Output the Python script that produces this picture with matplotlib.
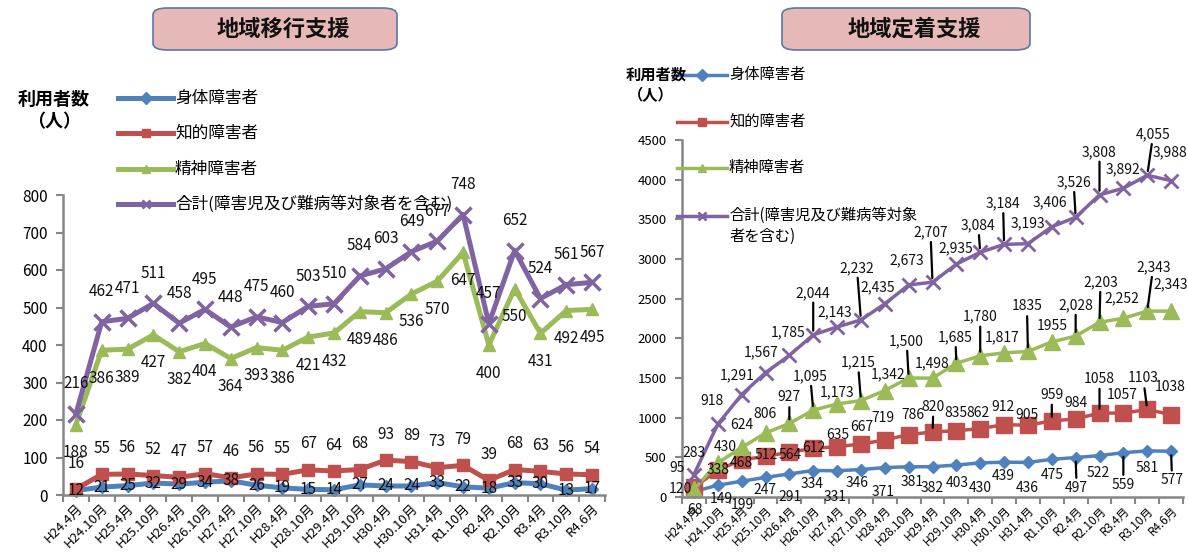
import numpy as np
import matplotlib.pyplot as plt
from matplotlib.lines import Line2D
from matplotlib.patches import FancyBboxPatch

plt.rcParams['font.family'] = ['Noto Sans CJK JP', 'DejaVu Sans']

# ---- data ----
months = ['H24.4月', 'H24.10月', 'H25.4月', 'H25.10月', 'H26.4月', 'H26.10月', 'H27.4月',
          'H27.10月', 'H28.4月', 'H28.10月', 'H29.4月', 'H29.10月', 'H30.4月', 'H30.10月',
          'H31.4月', 'R1.10月', 'R2.4月', 'R2.10月', 'R3.4月', 'R3.10月', 'R4.6月']
names = ['身体障害者', '知的障害者', '精神障害者', '合計(障害児及び難病等対象者を含む)']

# 地域移行支援
ik_body = [12, 21, 25, 32, 29, 34, 38, 26, 19, 15, 14, 27, 24, 24, 33, 22, 18, 33, 30, 13, 17]
ik_intel = [16, 55, 56, 52, 47, 57, 46, 56, 55, 67, 64, 68, 93, 89, 73, 79, 39, 68, 63, 56, 54]
ik_mental = [188, 386, 389, 427, 382, 404, 364, 393, 386, 421, 432, 489, 486, 536, 570, 647,
             400, 550, 431, 492, 495]
ik_total = [216, 462, 471, 511, 458, 495, 448, 475, 460, 503, 510, 584, 603, 649, 677, 748,
            457, 652, 524, 561, 567]

# 地域定着支援
tc_body = [68, 149, 199, 247, 291, 334, 331, 346, 371, 381, 382, 403, 430, 439, 436, 475,
           497, 522, 559, 581, 577]
tc_intel = [120, 338, 468, 512, 564, 612, 635, 667, 719, 786, 820, 835, 862, 912, 905, 959,
            984, 1058, 1057, 1103, 1038]
tc_mental = [95, 430, 624, 806, 927, 1095, 1173, 1215, 1342, 1500, 1498, 1685, 1780, 1817,
             1835, 1955, 2028, 2203, 2252, 2343, 2343]
tc_total = [283, 918, 1291, 1567, 1785, 2044, 2143, 2232, 2435, 2673, 2707, 2935, 3084, 3184,
            3193, 3406, 3526, 3808, 3892, 4055, 3988]
tc_mental_nocomma = [14, 15]

# ---- label placement for the right chart (pixels, + is down) ----
tot_dx = [0, -6, -4, -4, -1, 0, -2, -4, -7, -2, -2, -1, -2, -1, 0, -2, -2, 0, 0, 6, -1]
tot_dy = [-22, -23, -19, -20, -23, -42, -15, -52, -17, -25, -50, -16, -27, -41, -20, -24,
          -35, -43, -19, -41, -28]
men_dx = [-17, 7, 0, 0, 0, -3, 0, -3, 3, -2, 0, -1, 0, -2, -1, 0, 0, 1, -1, 6, 0]
men_dy = [-21, -16, -22, -19, -26, -34, -12, -38, -16, -37, -15, -26, -39, -16, -45, -16,
          -31, -40, -20, -44, -27]
int_dx = [-14, 0, 0, 1, 1, 1, 1, 1, -2, 4, 1, 0, -2, -1, -1, 0, 0, 0, -1, -4, -1]
int_dy = [2, 0, 3, -1, 3, 0, -12, -17, -22, -20, -25, -18, -16, -18, -10, -26, -16, -34,
          -18, -31, -28]
bod_dx = [1, 4, 1, -1, 1, -1, -2, -4, -2, 4, 0, 1, 0, -1, -1, 0, 1, -1, 0, 0, 1]
bod_dy = [18, 14, 24, 13, 23, 13, 26, 13, 24, 15, 21, 18, 25, 14, 26, 16, 30, 17, 32, 17, 29]
tot_lead = [5, 7, 10, 12, 13, 16, 17, 19]
men_lead = [4, 5, 7, 9, 11, 12, 14, 16, 17, 19]
int_lead = [10, 15, 17, 19]
bod_lead = [16, 18, 20]

colors = ['#4F81BD', '#C0504D', '#9BBB59', '#8064A2']
markers = ['D', 's', '^', 'x']
grey = '#868686'

W, H = 1188, 555
fig = plt.figure(figsize=(W / 100, H / 100), dpi=100)


def fx(x):
    return x / W


def fy(y):
    return 1 - y / H


def style_axis(ax, ymax, step, yfs, xfs):
    x = np.arange(len(months))
    ax.set_xlim(-0.5, len(months) - 0.5)
    ax.set_ylim(0, ymax)
    ax.set_yticks(np.arange(0, ymax + 1, step))
    for s in ['top', 'right']:
        ax.spines[s].set_visible(False)
    for s in ['left', 'bottom']:
        ax.spines[s].set_color(grey)
        ax.spines[s].set_linewidth(1.8)
    ax.tick_params(axis='y', length=5, color=grey, width=1.5, labelsize=yfs, pad=6)
    ax.set_xticks(x)
    ax.set_xticklabels(months, rotation=45, ha='right', rotation_mode='anchor', fontsize=xfs)
    ax.tick_params(axis='x', which='major', length=0, pad=5)
    ax.set_xticks(np.arange(-0.5, len(months), 1), minor=True)
    ax.tick_params(axis='x', which='minor', length=5, color=grey, width=1.5)


# ---------------- left: 地域移行支援 ----------------
ax1 = fig.add_axes([fx(63), fy(495), (605 - 63) / W, (495 - 195) / H])
style_axis(ax1, 800, 100, 11, 9.5)
x = np.arange(len(months))
left_series = [ik_body, ik_intel, ik_mental, ik_total]
left_ms = [6, 8, 8, 11]
left_off = [0, 26, -28, 30]
for vals, c, m, ms, off in zip(left_series, colors, markers, left_ms, left_off):
    ax1.plot(x, vals, color=c, lw=3.6, marker=m, ms=ms, mew=2.5 if m == 'x' else 1,
             mec=c, clip_on=False)
    for i, v in enumerate(vals):
        ax1.annotate(str(v), (i, v), xytext=(0, off), textcoords='offset pixels',
                     ha='center', va='center', fontsize=11, color='#111111', zorder=10)

# ---------------- right: 地域定着支援 ----------------
ax2 = fig.add_axes([fx(682), fy(497), (1183 - 682) / W, (497 - 140) / H])
style_axis(ax2, 4500, 500, 9.5, 8.5)
right_series = [tc_body, tc_intel, tc_mental, tc_total]
right_ms = [6, 11, 11, 10]
for vals, c, m, ms in zip(right_series, colors, markers, right_ms):
    ax2.plot(x, vals, color=c, lw=2.5, marker=m, ms=ms, mew=2 if m == 'x' else 1,
             mec=c, clip_on=False)


def fmt(v, comma):
    return f'{v:,}' if comma else str(v)


label_sets = [
    (tc_body, bod_dx, bod_dy, bod_lead, False, []),
    (tc_intel, int_dx, int_dy, int_lead, False, []),
    (tc_mental, men_dx, men_dy, men_lead, True, tc_mental_nocomma),
    (tc_total, tot_dx, tot_dy, tot_lead, True, []),
]
for vals, dxs, dys, lead, comma, nocomma in label_sets:
    for i, v in enumerate(vals):
        txt = fmt(v, comma and i not in nocomma)
        kw = {}
        if i in lead:
            kw['arrowprops'] = dict(arrowstyle='-', color='black', lw=1.6,
                                    shrinkA=0, shrinkB=3)
        ax2.annotate(txt, (i, v), xytext=(dxs[i], -dys[i]), textcoords='offset pixels',
                     ha='center', va='center', fontsize=10, color='#111111', zorder=10, **kw)

# ---------------- titles ----------------
for (x0, x1, tx, title) in [(153, 397, 283, '地域移行支援'), (782, 1030, 914, '地域定着支援')]:
    box = FancyBboxPatch((fx(x0), fy(50)), (x1 - x0) / W, 42 / H,
                         boxstyle='round,pad=0,rounding_size=0.012',
                         transform=fig.transFigure, fc='#E6B9B8', ec='#5A78A8', lw=1.2)
    fig.add_artist(box)
    fig.text(fx(tx), fy(29), title, ha='center', va='center', fontsize=16,
             fontweight='bold', color='#111111')

# ---------------- y labels ----------------
fig.text(fx(54), fy(99), '利用者数', ha='center', va='center', fontsize=13, fontweight='bold')
fig.text(fx(54), fy(122), '（人）', ha='center', va='center', fontsize=13, fontweight='bold')
fig.text(fx(656), fy(75), '利用者数', ha='center', va='center', fontsize=11, fontweight='bold')
fig.text(fx(651), fy(95), '（人）', ha='center', va='center', fontsize=11, fontweight='bold')

# ---------------- legends ----------------
left_rows = [98, 133, 169, 204]
for name, c, m, yr in zip(names, colors, markers, left_rows):
    fig.add_artist(Line2D([fx(118), fx(173)], [fy(yr), fy(yr)], transform=fig.transFigure,
                          color=c, lw=3.6))
    fig.add_artist(Line2D([fx(145.5)], [fy(yr)], transform=fig.transFigure, color=c,
                          marker=m, ms=6, mew=2 if m == 'x' else 1, mec=c))
    fig.text(fx(175), fy(yr), name, ha='left', va='center', fontsize=12)

right_rows = [75, 122, 168, 216]
right_names = names[:3] + ['合計(障害児及び難病等対象\n者を含む)']
for name, c, m, yr in zip(right_names, colors, markers, right_rows):
    fig.add_artist(Line2D([fx(677), fx(727)], [fy(yr), fy(yr)], transform=fig.transFigure,
                          color=c, lw=2.5))
    fig.add_artist(Line2D([fx(702)], [fy(yr)], transform=fig.transFigure, color=c,
                          marker=m, ms=6, mew=2 if m == 'x' else 1, mec=c))
    fig.text(fx(729), fy(yr - 9), name, ha='left', va='top', fontsize=11,
             linespacing=1.3)

fig.savefig('out.png', dpi=100)
